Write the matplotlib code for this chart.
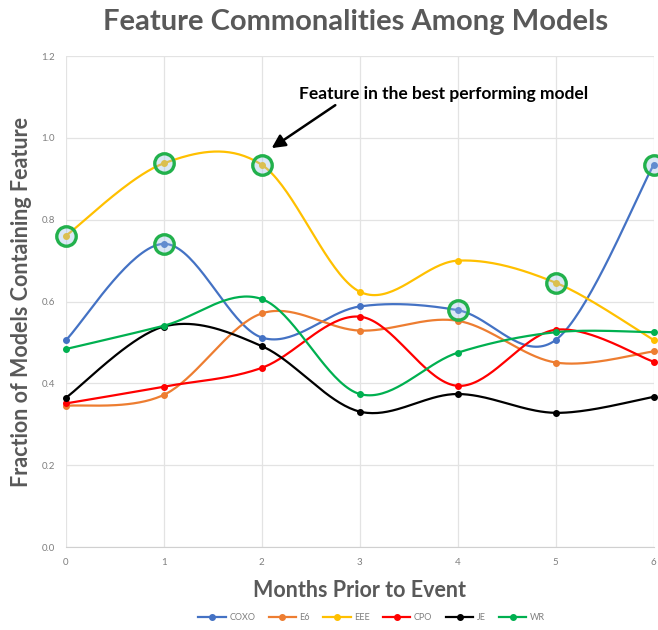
import numpy as np
import matplotlib
matplotlib.use("Agg")
import matplotlib.pyplot as plt

plt.rcParams["font.family"] = ["Lato", "DejaVu Sans"]

months = [0, 1, 2, 3, 4, 5, 6]
coxo = [0.506, 0.741, 0.512, 0.588, 0.579, 0.506, 0.934]
e6 = [0.345, 0.372, 0.571, 0.529, 0.553, 0.451, 0.478]
eee = [0.761, 0.938, 0.934, 0.624, 0.700, 0.646, 0.506]
cpo = [0.351, 0.392, 0.438, 0.563, 0.394, 0.531, 0.453]
je = [0.365, 0.539, 0.491, 0.331, 0.374, 0.328, 0.367]
wr = [0.484, 0.541, 0.606, 0.374, 0.475, 0.525, 0.525]

series_names = ["COXO", "E6", "EEE", "CPO", "JE", "WR"]
series_vals = [coxo, e6, eee, cpo, je, wr]
colors = ["#4472C4", "#ED7D31", "#FFC000", "#FF0000", "#000000", "#00B050"]

# points marked as "best performing model"
best_eee = [0, 1, 2, 5]
best_coxo = [1, 4, 6]


def smooth(x, y, n=40):
    # Excel-like smoothed line: Catmull-Rom bezier between points
    x = np.asarray(x, float)
    y = np.asarray(y, float)
    px = np.concatenate([[x[0]], x, [x[-1]]])
    py = np.concatenate([[y[0]], y, [y[-1]]])
    t = np.linspace(0, 1, n)
    xs, ys = [], []
    for i in range(1, len(px) - 2):
        p0 = np.array([px[i], py[i]])
        p3 = np.array([px[i + 1], py[i + 1]])
        c1 = p0 + (np.array([px[i + 1], py[i + 1]]) - np.array([px[i - 1], py[i - 1]])) / 6
        c2 = p3 - (np.array([px[i + 2], py[i + 2]]) - np.array([px[i], py[i]])) / 6
        b = ((1 - t) ** 3)[:, None] * p0 + (3 * (1 - t) ** 2 * t)[:, None] * c1 \
            + (3 * (1 - t) * t ** 2)[:, None] * c2 + (t ** 3)[:, None] * p3
        xs.append(b[:, 0])
        ys.append(b[:, 1])
    return np.concatenate(xs), np.concatenate(ys)


fig = plt.figure(figsize=(6.58, 6.3), dpi=100)
ax = fig.add_axes([0.1003, 0.1317, 0.893, 0.7793])

gray = "#595959"
for name, vals, c in zip(series_names, series_vals, colors):
    sx, sy = smooth(months, vals)
    ax.plot(sx, sy, color=c, lw=1.6, zorder=3, clip_on=False)
    ax.plot(months, vals, "o", color=c, ms=4, zorder=4, clip_on=False)
    ax.plot([], [], "-o", color=c, lw=1.6, ms=4, label=name)

for i in best_eee:
    ax.plot(months[i], eee[i], "o", ms=14, mfc=(0.6, 0.75, 0.9, 0.35),
            mec="#22B14C", mew=2.4, zorder=5, clip_on=False)
for i in best_coxo:
    ax.plot(months[i], coxo[i], "o", ms=14, mfc=(0.6, 0.75, 0.9, 0.35),
            mec="#22B14C", mew=2.4, zorder=5, clip_on=False)

ax.set_xlim(0, 6)
ax.set_ylim(0, 1.2)
ax.set_xticks(months)
ax.set_yticks(np.arange(0, 1.21, 0.2))
ax.yaxis.set_major_formatter(plt.FuncFormatter(lambda v, p: f"{v:.1f}"))
ax.grid(True, color="#E3E3E3", lw=0.9)
ax.set_axisbelow(True)
for s in ["top", "right", "left"]:
    ax.spines[s].set_visible(False)
ax.spines["bottom"].set_color("#D0D0D0")
ax.tick_params(length=0, labelsize=7, colors="#7F7F7F", pad=8)

fig.text(0.541, 0.965, "Feature Commonalities Among Models", fontsize=21,
         fontweight="bold", color=gray, ha="center", va="center")
ax.set_xlabel("Months Prior to Event", fontsize=15.5, fontweight="bold", color=gray)
ax.xaxis.set_label_coords(0.5, -0.068)
ax.set_ylabel("Fraction of Models Containing Feature", fontsize=15.5, fontweight="bold",
              color=gray)
ax.yaxis.set_label_coords(-0.058, 0.5)

ax.text(2.38, 1.108, "Feature in the best performing model", fontsize=12.5,
        fontweight="bold", color="black", va="center")
ax.annotate("", xy=(2.10, 0.975), xytext=(2.75, 1.08),
            arrowprops=dict(arrowstyle="-|>", color="black", lw=1.8,
                            mutation_scale=20, shrinkA=0, shrinkB=0))

fig.legend(loc="center", bbox_to_anchor=(0.565, 0.02), ncol=6, frameon=False,
           fontsize=6.5, labelcolor="#7F7F7F", handlelength=3, columnspacing=1.5,
           handletextpad=0.4)

fig.savefig("out.png", dpi=100)
